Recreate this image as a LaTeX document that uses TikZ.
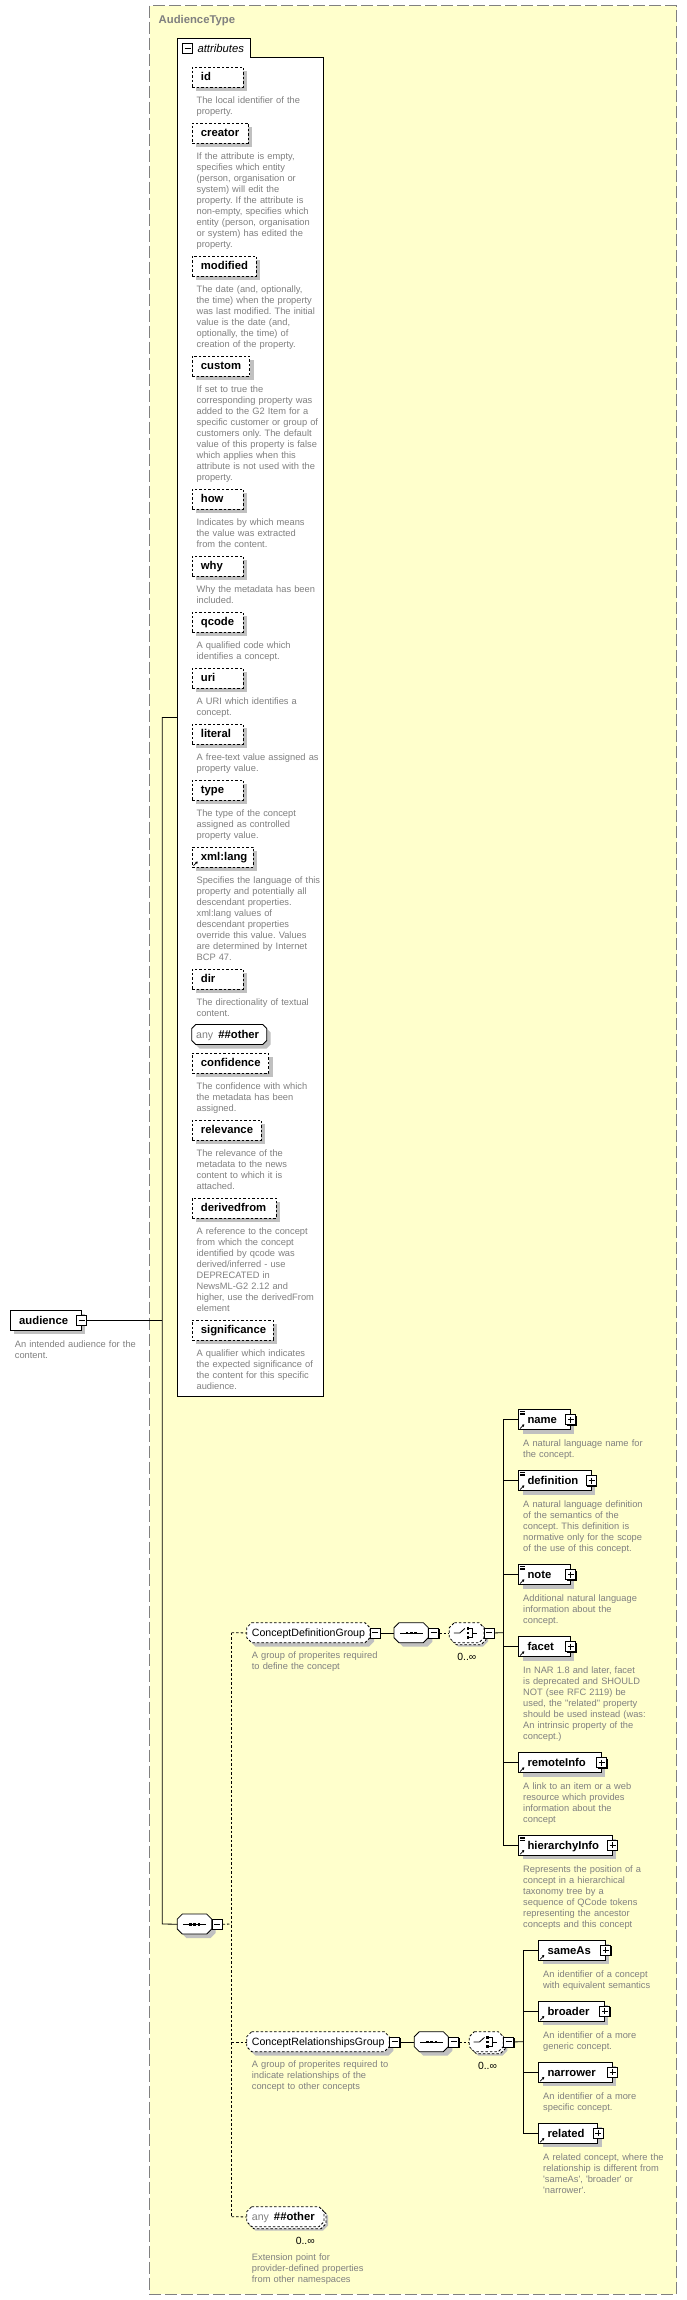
\documentclass[tikz,border=0pt]{standalone}
\usepackage{fontspec}
\setmainfont{Liberation Sans}
\usetikzlibrary{calc,shadows,arrows.meta}
\definecolor{bgyellow}{RGB}{255,255,204}
\definecolor{framegray}{RGB}{128,128,128}
\definecolor{descgray}{RGB}{128,128,128}
\definecolor{shadowgray}{RGB}{192,192,192}
\frenchspacing
\newcommand\xsLbl{\fontsize{11.3}{13}\selectfont\bfseries}
\newcommand\xsDsc{\fontsize{9.3}{11}\selectfont\frenchspacing}
\newcommand\xsGrpf{\fontsize{10.6}{12}\selectfont}
\newcommand\xsOcc{\fontsize{10.4}{12}\selectfont}
\newcommand\xsOct[5]{(#1+#5,#2) -- (#3-#5,#2) -- (#3,#2+#5) -- (#3,#4-#5) -- (#3-#5,#4) -- (#1+#5,#4) -- (#1,#4-#5) -- (#1,#2+#5) -- cycle}
\newcommand\xsGroup[8]{%
  \fill[shadowgray] \xsOct{#2+4}{#3+4}{#2+#4+4}{#3+24}{#7};
  \ifnum#6=1 \filldraw[fill=white,#5] \xsOct{#2+2}{#3+2}{#2+#4+2}{#3+22}{#7};\fi
  \filldraw[fill=white,#5] \xsOct{#2}{#3}{#2+#4}{#3+20}{#7};
  \node[grp,text width=#4pt] (#1) at (#2,#3) {#8};}
\newcommand\xsElem[6]{\node[#5,text width=#4pt] (#1) at (#2,#3) {\hspace*{8.8pt}#6};}
\newcommand\xsDesc[3]{\node[desc] (#1) at ($(#2.south west)+(4.7,8.3)$) {\strut#3};}
\newcommand\xsDescAt[4]{\node[desc] (#1) at ($(#2.south west)+(5,#3)$) {\strut#4};}
\newcommand\xsMinus[2]{\node[pm] (#1) at (#2) {}; \draw[line width=.9pt] ($(#1.center)+(-3,0)$) -- ($(#1.center)+(3,0)$);}
\newcommand\xsPlus[2]{\node[pm] (#1) at (#2) {}; \draw[line width=.9pt] ($(#1.center)+(-3,0)$) -- ($(#1.center)+(3,0)$) ($(#1.center)+(0,-3)$) -- ($(#1.center)+(0,3)$);}
\newcommand\xsArrow[1]{\draw[line width=.7pt,-{Triangle[length=2.2pt,width=2.6pt]}] ($(#1.south west)+(1.8,-1.6)$) -- ($(#1.south west)+(6,-5.8)$);}
\newcommand\xsLines[1]{\draw[line width=.6pt] ($(#1.north west)+(1.5,1.8)$) -- +(5,0) ($(#1.north west)+(1.5,3.6)$) -- +(5,0) ($(#1.north west)+(1.5,5.4)$) -- +(5,0);}
\newcommand\xsSeq[1]{\draw[line width=.8pt] ($(#1.west)+(6,0)$) -- ($(#1.east)+(-6,0)$); \foreach \xsv in {-4.3,0,4.3} \fill ($(#1.center)+(\xsv-1.3,-1.3)$) rectangle ++(2.6,2.6);}
\newcommand\xsChoice[1]{%
  \draw[line width=.8pt] ($(#1.center)+(-13,0)$) -- ($(#1.center)+(-7,0)$) -- ($(#1.center)+(-2,-4.5)$);
  \foreach \xsv in {-4.3,0,4.3} \fill ($(#1.center)+(-0.3,\xsv-1.3)$) rectangle ++(2.6,2.6);
  \draw[line width=.8pt] ($(#1.center)+(2.3,-4.3)$) -- ($(#1.center)+(5.5,-4.3)$) -- ($(#1.center)+(5.5,4.3)$) -- ($(#1.center)+(2.3,4.3)$) ($(#1.center)+(5.5,0)$) -- ($(#1.center)+(10,0)$);}
\tikzset{
 shad/.style={drop shadow={shadow xshift=4pt,shadow yshift=-4pt,opacity=1,fill=shadowgray}},
 elem/.style={draw=black,fill=white,line width=.8pt,shad,anchor=north west,inner sep=0pt,minimum height=20pt,text height=9pt,text depth=1pt,align=left,font=\xsLbl},
 attr/.style={elem,dash pattern=on 2.5pt off 2pt},
 grp/.style={anchor=north west,inner sep=0pt,minimum height=20pt,text height=8pt,text depth=1pt,align=left,font=\xsGrpf},
 pm/.style={draw=black,fill=white,line width=.8pt,minimum size=10pt,inner sep=0pt,drop shadow={shadow xshift=.9pt,shadow yshift=-.9pt,opacity=1,fill=black}},
 desc/.style={anchor=north west,inner sep=0pt,text width=175pt,align=left,font=\xsDsc,text=descgray},
 occ/.style={inner sep=0pt,font=\xsOcc},
 conn/.style={line width=.8pt},
 dconn/.style={line width=.8pt,dash pattern=on 2.5pt off 2pt},
 grpdash/.style={draw=black,line width=.8pt,dash pattern=on 2.5pt off 2pt},
 grpsolid/.style={draw=black,line width=.8pt}
}
\begin{document}
\begin{tikzpicture}[x=1pt,y=-1pt]
\useasboundingbox (0,0) rectangle (687,2300);
\fill[white] (0,0) rectangle (687,2300);
\draw[framegray,fill=bgyellow,line width=1pt,dash pattern=on 12pt off 4pt] (149.5,5.7) rectangle (676.7,2294.3);
\node[anchor=base west,inner sep=0pt,font=\xsLbl,text=descgray] (title) at (158.5,23.3) {AudienceType};

% attributes container
\filldraw[fill=white,line width=.8pt] (177.3,38.3) -- (250,38.3) -- (250,57.3) -- (323.3,57.3) -- (323.3,1396) -- (177.3,1396) -- cycle;
\coordinate (attrs) at (177.3,717.2);
\xsMinus{attrm}{187.5,48.3}
\node[anchor=base west,inner sep=0pt,font=\fontsize{11.3}{13}\selectfont\itshape] (attrlbl) at (197.3,52.3) {attributes};

\xsElem{id}{191.7}{66.5}{51}{attr}{id}
\xsDesc{did}{id}{The local identifier of the\\property.}
\xsElem{creator}{191.7}{122.5}{56}{attr}{creator}
\xsDesc{dcreator}{creator}{If the attribute is empty,\\specifies which entity\\(person, organisation or\\system) will edit the\\property. If the attribute is\\non-empty, specifies which\\entity (person, organisation\\or system) has edited the\\property.}
\xsElem{modified}{191.7}{255.5}{64.3}{attr}{modified}
\xsDesc{dmodified}{modified}{The date (and, optionally,\\the time) when the property\\was last modified. The initial\\value is the date (and,\\optionally, the time) of\\creation of the property.}
\xsElem{custom}{191.7}{355.5}{57.6}{attr}{custom}
\xsDesc{dcustom}{custom}{If set to true the\\corresponding property was\\added to the G2 Item for a\\specific customer or group of\\customers only. The default\\value of this property is false\\which applies when this\\attribute is not used with the\\property.}
\xsElem{how}{191.7}{488.5}{51}{attr}{how}
\xsDesc{dhow}{how}{Indicates by which means\\the value was extracted\\from the content.}
\xsElem{why}{191.7}{555.5}{51}{attr}{why}
\xsDesc{dwhy}{why}{Why the metadata has been\\included.}
\xsElem{qcode}{191.7}{611.5}{51}{attr}{qcode}
\xsDesc{dqcode}{qcode}{A qualified code which\\identifies a concept.}
\xsElem{uri}{191.7}{667.5}{51}{attr}{uri}
\xsDesc{duri}{uri}{A URI which identifies a\\concept.}
\xsElem{literal}{191.7}{723.5}{51}{attr}{literal}
\xsDesc{dliteral}{literal}{A free-text value assigned as\\property value.}
\xsElem{type}{191.7}{779.5}{51}{attr}{type}
\xsDesc{dtype}{type}{The type of the concept\\assigned as controlled\\property value.}
\xsElem{xmllang}{191.7}{846.5}{61}{attr}{xml:lang}
\xsArrow{xmllang}
\xsDesc{dxmllang}{xmllang}{Specifies the language of this\\property and potentially all\\descendant properties.\\xml:lang values of\\descendant properties\\override this value. Values\\are determined by Internet\\BCP 47.}
\xsElem{dir}{191.7}{968.5}{51}{attr}{dir}
\xsDesc{ddir}{dir}{The directionality of textual\\content.}
\xsGroup{anyattr}{191.7}{1024.5}{75}{grpsolid}{0}{4}{\hspace*{4.3pt}{\color{descgray}any}\hspace{5pt}{\xsLbl\#\#other}}
\xsElem{confidence}{191.7}{1052.5}{76.6}{attr}{confidence}
\xsDesc{dconfidence}{confidence}{The confidence with which\\the metadata has been\\assigned.}
\xsElem{relevance}{191.7}{1119.5}{69}{attr}{relevance}
\xsDesc{drelevance}{relevance}{The relevance of the\\metadata to the news\\content to which it is\\attached.}
\xsElem{derivedfrom}{191.7}{1197.5}{84.3}{attr}{derivedfrom}
\xsDesc{dderivedfrom}{derivedfrom}{A reference to the concept\\from which the concept\\identified by qcode was\\derived/inferred - use\\DEPRECATED in\\NewsML-G2 2.12 and\\higher, use the derivedFrom\\element}
\xsElem{significance}{191.7}{1319.5}{81}{attr}{significance}
\xsDesc{dsignificance}{significance}{A qualifier which indicates\\the expected significance of\\the content for this specific\\audience.}

% audience
\xsElem{aud}{10}{1310}{70.7}{elem}{audience}
\xsMinus{audm}{aud.east}
\xsDesc{daud}{aud}{An intended audience for the\\content.}

% main sequence
\xsGroup{seq1}{177.3}{1914}{34.4}{grpsolid}{0}{5}{}
\xsSeq{seq1}
\xsMinus{seq1m}{$(seq1.east)+(5,0)$}

% ConceptDefinitionGroup
\xsGroup{cdg}{246.7}{1622.7}{123.3}{grpdash}{0}{5}{\hspace*{5pt}ConceptDefinitionGroup}
\xsMinus{cdgm}{$(cdg.east)+(5,0)$}
\xsDescAt{dcdg}{cdg}{7.5}{A group of properites required\\to define the concept}
\xsGroup{seq2}{394}{1622.7}{34.3}{grpsolid}{0}{5}{}
\xsSeq{seq2}
\xsMinus{seq2m}{$(seq2.east)+(5,0)$}
\xsGroup{ch2}{449.3}{1622.7}{34.7}{grpdash}{1}{5}{}
\xsChoice{ch2}
\xsMinus{ch2m}{$(ch2.east)+(5,0)$}
\node[occ] (occ2) at ($(ch2.south)+(0,13.3)$) {0..∞};

\xsElem{name}{518.3}{1409.3}{51.7}{elem}{name}
\xsPlus{namep}{name.east}
\xsLines{name}\xsArrow{name}
\xsDesc{dname}{name}{A natural language name for\\the concept.}
\xsElem{definition}{518.3}{1470.3}{72.4}{elem}{definition}
\xsPlus{definitionp}{definition.east}
\xsLines{definition}\xsArrow{definition}
\xsDesc{ddefinition}{definition}{A natural language definition\\of the semantics of the\\concept. This definition is\\normative only for the scope\\of the use of this concept.}
\xsElem{note}{518.3}{1564.3}{51.7}{elem}{note}
\xsPlus{notep}{note.east}
\xsLines{note}\xsArrow{note}
\xsDesc{dnote}{note}{Additional natural language\\information about the\\concept.}
\xsElem{facet}{518.3}{1636.3}{51.7}{elem}{facet}
\xsPlus{facetp}{facet.east}
\xsArrow{facet}
\xsDesc{dfacet}{facet}{In NAR 1.8 and later, facet\\is deprecated and SHOULD\\NOT (see RFC 2119) be\\used, the \textquotedbl{}related\textquotedbl{} property\\should be used instead (was:\\An intrinsic property of the\\concept.)}
\xsElem{remoteInfo}{518.3}{1752.3}{82.7}{elem}{remoteInfo}
\xsPlus{remoteInfop}{remoteInfo.east}
\xsArrow{remoteInfo}
\xsDesc{dremoteInfo}{remoteInfo}{A link to an item or a web\\resource which provides\\information about the\\concept}
\xsElem{hierarchyInfo}{518.3}{1835}{93.4}{elem}{hierarchyInfo}
\xsPlus{hierarchyInfop}{hierarchyInfo.east}
\xsLines{hierarchyInfo}\xsArrow{hierarchyInfo}
\xsDesc{dhierarchyInfo}{hierarchyInfo}{Represents the position of a\\concept in a hierarchical\\taxonomy tree by a\\sequence of QCode tokens\\representing the ancestor\\concepts and this concept}

% ConceptRelationshipsGroup
\xsGroup{crg}{246.7}{2031.7}{142.6}{grpdash}{0}{5}{\hspace*{5pt}ConceptRelationshipsGroup}
\xsMinus{crgm}{$(crg.east)+(5,0)$}
\xsDescAt{dcrg}{crg}{7.8}{A group of properites required to\\indicate relationships of the\\concept to other concepts}
\xsGroup{seq3}{414.3}{2031.7}{34}{grpsolid}{0}{5}{}
\xsSeq{seq3}
\xsMinus{seq3m}{$(seq3.east)+(5,0)$}
\xsGroup{ch3}{469.3}{2031.7}{34}{grpdash}{1}{5}{}
\xsChoice{ch3}
\xsMinus{ch3m}{$(ch3.east)+(5,0)$}
\node[occ] (occ3) at ($(ch3.south)+(1,13.3)$) {0..∞};

\xsElem{sameAs}{538.3}{1940}{66.7}{elem}{sameAs}
\xsPlus{sameAsp}{sameAs.east}
\xsArrow{sameAs}
\xsDesc{dsameAs}{sameAs}{An identifier of a concept\\with equivalent semantics}
\xsElem{broader}{538.3}{2001}{65.7}{elem}{broader}
\xsPlus{broaderp}{broader.east}
\xsArrow{broader}
\xsDesc{dbroader}{broader}{An identifier of a more\\generic concept.}
\xsElem{narrower}{538.3}{2062}{73.4}{elem}{narrower}
\xsPlus{narrowerp}{narrower.east}
\xsArrow{narrower}
\xsDesc{dnarrower}{narrower}{An identifier of a more\\specific concept.}
\xsElem{related}{538.3}{2123}{59}{elem}{related}
\xsPlus{relatedp}{related.east}
\xsArrow{related}
\xsDesc{drelated}{related}{A related concept, where the\\relationship is different from\\\textquotesingle{}sameAs\textquotesingle{}, \textquotesingle{}broader\textquotesingle{} or\\\textquotesingle{}narrower\textquotesingle{}.}

% any ##other
\xsGroup{anyb}{246.7}{2206.7}{77.3}{grpdash}{1}{5}{\hspace*{5pt}{\color{descgray}any}\hspace{5pt}{\xsLbl\#\#other}}
\node[occ] (occb) at ($(anyb.south)+(19.7,13.3)$) {0..∞};
\xsDescAt{danyb}{anyb}{25}{Extension point for\\provider-defined properties\\from other namespaces}

% connectors
\coordinate (jA) at (162.3,717.2);
\coordinate (jS) at (162.3,1924);
\coordinate (jD) at (231.7,1924);
\coordinate (jDtop) at (231.7,1632.7);
\coordinate (jDbot) at (231.7,2216.7);
\coordinate (jE) at (503.3,1632.7);
\coordinate (jEtop) at (503.3,1419.3);
\coordinate (jEbot) at (503.3,1845);
\coordinate (jF) at (523.3,2041.7);
\coordinate (jFtop) at (523.3,1950);
\coordinate (jFbot) at (523.3,2133);
\draw[conn] (audm.east) -- (audm.east -| jA);
\draw[conn] (jA) -- (attrs);
\draw[conn] (jA) -- (jS) -- (seq1.west);
\draw[dconn] (seq1m.east) -- (jD);
\draw[dconn] (jDtop) -- (jDbot);
\draw[dconn] (jDtop) -- (cdg.west);
\draw[dconn] (jDtop |- crg.west) -- (crg.west);
\draw[dconn] (jDbot) -- (anyb.west);
\draw[conn] (cdgm.east) -- (seq2.west);
\draw[dconn] (seq2m.east) -- (ch2.west);
\draw[conn] (ch2m.east) -- (jE);
\draw[conn] (jEtop) -- (jEbot);
\foreach \n in {name,definition,note,facet,remoteInfo,hierarchyInfo} \draw[conn] (jEtop |- \n.west) -- (\n.west);
\draw[conn] (crgm.east) -- (seq3.west);
\draw[dconn] (seq3m.east) -- (ch3.west);
\draw[conn] (ch3m.east) -- (jF);
\draw[conn] (jFtop) -- (jFbot);
\foreach \n in {sameAs,broader,narrower,related} \draw[conn] (jFtop |- \n.west) -- (\n.west);
\end{tikzpicture}
\end{document}
